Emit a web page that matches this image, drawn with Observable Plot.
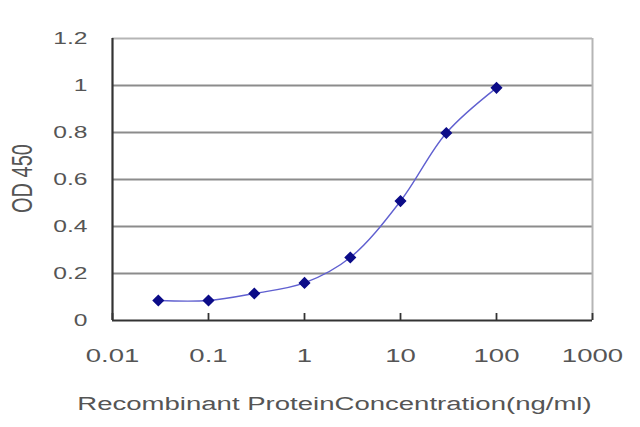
<!DOCTYPE html>
<html><head><meta charset="utf-8">
<script src="https://cdn.jsdelivr.net/npm/d3@7"></script>
<script src="https://cdn.jsdelivr.net/npm/@observablehq/plot@0.6"></script>
<style>
html,body{margin:0;padding:0;background:#fff;}
</style>
</head><body>
<div id="chart"></div>
<script>
const concentration = [0.03, 0.1, 0.3, 1, 3, 10, 30, 100];
const od450 = [0.085, 0.085, 0.115, 0.16, 0.268, 0.508, 0.798, 0.99];
const xTicks = [0.01, 0.1, 1, 10, 100, 1000];
const xTickLabels = ["0.01", "0.1", "1", "10", "100", "1000"];
const yTicks = [0, 0.2, 0.4, 0.6, 0.8, 1, 1.2];
const yTickLabels = ["0", "0.2", "0.4", "0.6", "0.8", "1", "1.2"];
const yTitle = "OD 450";
const xTitle = "Recombinant ProteinConcentration(ng/ml)";

const data = concentration.map((c, i) => ({c, v: od450[i]}));
const font = "Liberation Sans, Arial, sans-serif";
const txt = "#555";

const chart = Plot.plot({
  width: 640, height: 427,
  marginLeft: 112, marginRight: 48, marginTop: 38, marginBottom: 107,
  style: {fontFamily: font, background: "#fff"},
  x: {type: "log", domain: [0.01, 1000]},
  y: {domain: [0, 1.2]},
  marks: [
    Plot.ruleY(yTicks.filter(d => d > 0 && d < 1.2), {stroke: "#8c8c8c", strokeWidth: 2.2}),
    Plot.ruleY([1.2], {stroke: "#b5b5b5", strokeWidth: 2}),
    Plot.ruleX([1000], {stroke: "#b5b5b5", strokeWidth: 2}),
    Plot.axisY({ticks: yTicks, tickFormat: d => yTickLabels[yTicks.indexOf(d)], tickSize: 0, tickPadding: 25, fontSize: 17, color: txt, label: null}),
    Plot.text([yTitle], {frameAnchor: "left", textAnchor: "middle", dx: -90, dy: -1, rotate: -90, fontSize: 20, fill: txt}),
    Plot.axisX({ticks: xTicks, tickFormat: d => xTickLabels[xTicks.indexOf(d)], tickSize: 0, tickPadding: 28, fontSize: 19, color: txt, label: null}),
    Plot.ruleX(xTicks, {x: d => d, y1: 0, y2: 0, insetTop: -7, stroke: "#333", strokeWidth: 1.8}),
    Plot.text([xTitle], {frameAnchor: "bottom", dy: 89, dx: -18, fontSize: 19, fill: txt}),
    Plot.ruleX([0.01], {stroke: "#333", strokeWidth: 2.2}),
    Plot.ruleY([0], {stroke: "#333", strokeWidth: 2.2}),
    Plot.line(data, {x: "c", y: "v", stroke: "#6060d0", strokeWidth: 1.4, curve: "catmull-rom"}),
    Plot.dot(data, {x: "c", y: "v", symbol: "diamond2", r: 4.5, fill: "#0c0c88", stroke: "#0c0c88"})
  ]
});
document.getElementById("chart").appendChild(chart);

// Horizontal stretch of all text, like the reference's widened lettering
const stretch = 1.45;
chart.querySelectorAll("text").forEach(el => {
  const xa = parseFloat(el.getAttribute("x")) || 0;
  const ya = parseFloat(el.getAttribute("y")) || 0;
  const t = el.transform.baseVal.consolidate();
  const m = t ? t.matrix : {a: 1, b: 0, c: 0, d: 1, e: 0, f: 0};
  const px = m.a * xa + m.c * ya + m.e;
  const g = document.createElementNS("http://www.w3.org/2000/svg", "g");
  g.setAttribute("transform", `translate(${px},0) scale(${stretch},1) translate(${-px},0)`);
  el.parentNode.insertBefore(g, el);
  g.appendChild(el);
});
</script>
</body></html>
